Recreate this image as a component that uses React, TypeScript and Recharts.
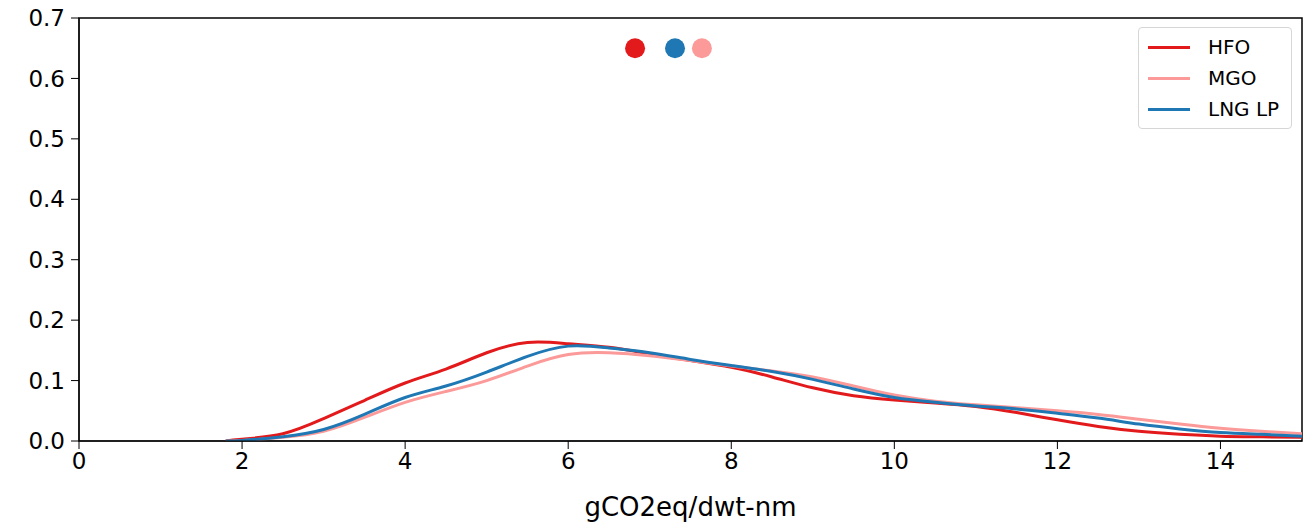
import { ComposedChart, Line, XAxis, YAxis, ReferenceDot, ReferenceArea } from 'recharts'

// density estimates of emission intensity, per fuel
const xs = [1.8, 2, 2.5, 3, 3.5, 4, 4.5, 5, 5.5, 6, 6.5, 7, 7.5, 8, 8.5, 9, 9.5, 10, 10.5, 11, 11.5, 12, 12.5, 13, 13.5, 14, 14.5, 15]
const hfo = [0, 0.003, 0.012, 0.037, 0.067, 0.096, 0.119, 0.146, 0.163, 0.161, 0.155, 0.144, 0.133, 0.122, 0.106, 0.088, 0.075, 0.068, 0.063, 0.057, 0.047, 0.035, 0.024, 0.016, 0.011, 0.008, 0.007, 0.006]
const mgo = [0, 0.001, 0.006, 0.016, 0.039, 0.064, 0.082, 0.100, 0.124, 0.143, 0.146, 0.141, 0.133, 0.124, 0.116, 0.106, 0.091, 0.076, 0.066, 0.060, 0.055, 0.050, 0.044, 0.036, 0.028, 0.021, 0.016, 0.012]
const lng = [0, 0.001, 0.007, 0.019, 0.044, 0.072, 0.091, 0.114, 0.140, 0.157, 0.154, 0.146, 0.135, 0.125, 0.115, 0.102, 0.086, 0.072, 0.064, 0.058, 0.053, 0.046, 0.038, 0.028, 0.020, 0.014, 0.011, 0.008]

const fuels = ['HFO', 'MGO', 'LNG LP']
const colors = ['#e31a1c', '#fb9a99', '#1f78b4']
const means = [6.82, 7.64, 7.31]
const meanLevel = 0.65

const xTicks = [0, 2, 4, 6, 8, 10, 12, 14]
const yTicks = [0, 0.1, 0.2, 0.3, 0.4, 0.5, 0.6, 0.7]

const series = [hfo, mgo, lng].map((ys) => xs.map((x, i) => ({ x, y: ys[i] })))

const FONT = 'DejaVu Sans, sans-serif'

function LegendBox() {
  return (
    <div
      style={{
        position: 'absolute',
        left: 1138,
        top: 27,
        width: 154,
        height: 102,
        border: '1px solid #d6d6d6',
        borderRadius: 4,
        background: 'rgba(255,255,255,0.8)',
        fontFamily: FONT,
        fontSize: 20,
        boxSizing: 'border-box',
      }}
    >
      {fuels.map((f, i) => (
        <div key={f} style={{ position: 'absolute', left: 9, top: 6 + i * 31, height: 26, display: 'flex', alignItems: 'center' }}>
          <div style={{ width: 42, height: 3, background: colors[i] }} />
          <span style={{ marginLeft: 18, color: '#000' }}>{f}</span>
        </div>
      ))}
    </div>
  )
}

export default function App() {
  return (
    <div style={{ position: 'absolute', left: 0, top: 0, width: 1312, height: 522, background: '#fff' }}>
      <ComposedChart width={1312} height={522} margin={{ top: 18, right: 10, left: 0, bottom: 0 }}>
        <XAxis
          dataKey="x"
          type="number"
          domain={[0, 15]}
          ticks={xTicks}
          allowDataOverflow
          height={81}
          stroke="#000"
          tickSize={8}
          tick={{ fontSize: 23, fill: '#000', fontFamily: FONT }}
          tickMargin={4}
          label={{ value: 'gCO2eq/dwt-nm', position: 'insideBottom', offset: 6, fontSize: 26, fill: '#000', fontFamily: FONT }}
        />
        <YAxis
          type="number"
          domain={[0, 0.7]}
          ticks={yTicks}
          allowDataOverflow
          width={79}
          stroke="#000"
          tickSize={8}
          tickMargin={6}
          tickFormatter={(v: number) => v.toFixed(1)}
          tick={{ fontSize: 23, fill: '#000', fontFamily: FONT }}
        />
        {series.map((d, i) => (
          <Line
            key={fuels[i]}
            data={d}
            dataKey="y"
            type="natural"
            stroke={colors[i]}
            strokeWidth={3}
            dot={false}
            isAnimationActive={false}
          />
        ))}
        {means.map((m, i) => (
          <ReferenceDot key={fuels[i]} x={m} y={meanLevel} r={10} fill={colors[i]} stroke="none" />
        ))}
        <ReferenceArea x1={0} x2={15} y1={0} y2={0.7} fill="none" stroke="#000" strokeWidth={1.5} />
      </ComposedChart>
      <LegendBox />
    </div>
  )
}
